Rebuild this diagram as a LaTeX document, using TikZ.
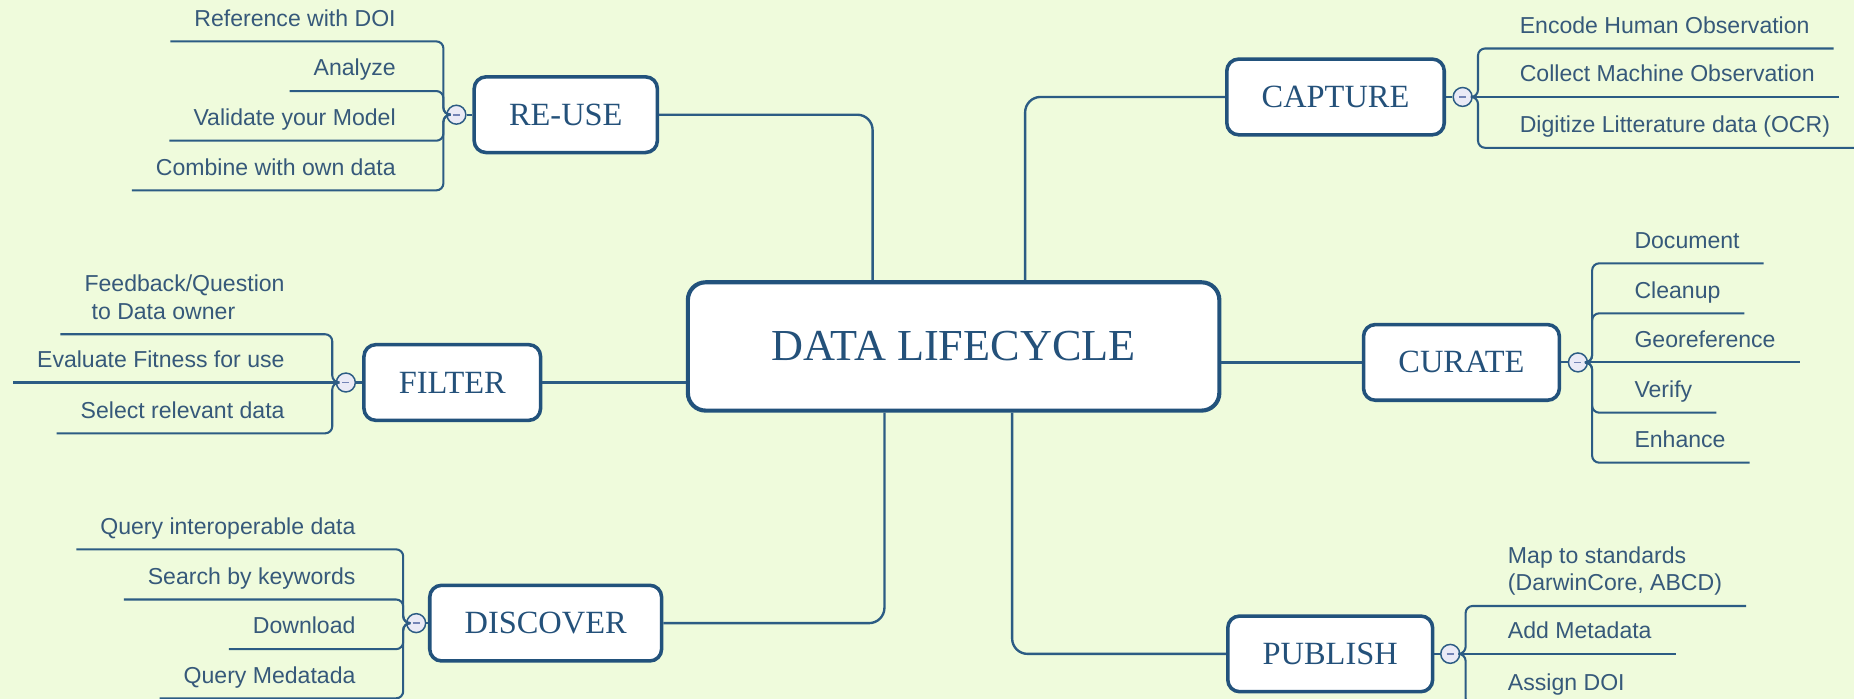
\documentclass[tikz,border=0pt]{standalone}
\usepackage{fontspec}
\setmainfont{Liberation Serif}
\newfontfamily\leaffont{Liberation Sans}

\definecolor{mmbg}{HTML}{EFFBDC}
\definecolor{mmbox}{HTML}{22527C}
\definecolor{mmline}{HTML}{2C5C84}
\definecolor{mmtext}{HTML}{36597A}
\definecolor{mmtitle}{HTML}{24517A}
\definecolor{mmdot}{HTML}{EAEAF6}
\definecolor{mmminus}{HTML}{7383B5}

\begin{document}
\begin{tikzpicture}[x=0.2mm, y=-0.2mm,
        hub/.style={draw=mmbox, line width=0.7mm, rounded corners=3mm, fill=white, text=mmtitle,
            font=\fontsize{21.3}{24}\selectfont, minimum width=89.9mm, minimum height=21.7mm},
        stage/.style={draw=mmbox, line width=0.6mm, rounded corners=2mm, fill=white, text=mmtitle,
            font=\fontsize{15.6}{18}\selectfont, inner xsep=5.9mm, minimum height=12.8mm},
        leaf/.style={text=mmtext, font=\leaffont\fontsize{11.1}{13.3}\selectfont,
            inner xsep=4mm, inner ysep=0pt, text depth=2.5mm},
        knob/.style={circle, draw=mmline, line width=0.25mm, fill=mmdot, minimum size=3.2mm, inner sep=0pt,
            path picture={\draw[mmminus, line width=0.3mm] ([xshift=-0.6mm]path picture bounding box.center)
                -- ([xshift=0.6mm]path picture bounding box.center);}},
        link/.style={draw=mmline, line width=0.4mm, rounded corners=2.6mm},
        twig/.style={draw=mmline, line width=0.35mm, rounded corners=1.2mm}]

        \useasboundingbox (0,0) rectangle (1568,591);
        \clip (0,0) rectangle (1568,591);
        \fill[mmbg] (0,0) rectangle (1568,591);

        % centre and stages
        \node[hub]   (lifecycle) at (806.5,293) {DATA LIFECYCLE};
        \node[stage] (reuse)     at (478.5, 97) {RE-USE};
        \node[stage] (capture)   at (1129.5,82) {CAPTURE};
        \node[stage] (filter)    at (382.5,323.5) {FILTER};
        \node[stage] (curate)    at (1236,306.5) {CURATE};
        \node[stage] (discover)  at (461.5,527) {DISCOVER};
        \node[stage] (publish)   at (1125,553) {PUBLISH};

        \path (lifecycle.north west) ++(158,0) coordinate (reuse-in);
        \path (lifecycle.north west) ++(287,0) coordinate (capture-in);
        \path (lifecycle.south west) ++(168,0) coordinate (discover-in);
        \path (lifecycle.south west) ++(276,0) coordinate (publish-in);

        \draw[link] (reuse.east) -| (reuse-in);
        \draw[link] (capture.west) -| (capture-in);
        \draw[link] (filter.east) -- (filter.east -| lifecycle.west);
        \draw[link] (curate.west) -- (curate.west -| lifecycle.east);
        \draw[link] (discover.east) -| (discover-in);
        \draw[link] (publish.west) -| (publish-in);

        % collapse knobs
        \node[knob] (reuse-k)    at (386,97) {};
        \node[knob] (capture-k)  at (1237,82) {};
        \node[knob] (filter-k)   at (292.5,323.5) {};
        \node[knob] (curate-k)   at (1334.5,306.5) {};
        \node[knob] (discover-k) at (352,527) {};
        \node[knob] (publish-k)  at (1226.5,553) {};

        \draw[twig] (reuse.west) -- (reuse-k.east);
        \draw[twig] (capture.east) -- (capture-k.west);
        \draw[twig] (filter.west) -- (filter-k.east);
        \draw[twig] (curate.east) -- (curate-k.west);
        \draw[twig] (discover.west) -- (discover-k.east);
        \draw[twig] (publish.east) -- (publish-k.west);

        \coordinate (reuse-sp)    at (375,97);
        \coordinate (capture-sp)  at (1250,82);
        \coordinate (filter-sp)   at (281,323.5);
        \coordinate (curate-sp)   at (1346.5,306.5);
        \coordinate (discover-sp) at (341,527);
        \coordinate (publish-sp)  at (1239.5,553);

        % RE-USE
        \node[leaf, anchor=south east] (reuse-1) at (355,35)  {Reference with DOI};
        \node[leaf, anchor=south east] (reuse-2) at (355,77)  {Analyze};
        \node[leaf, anchor=south east] (reuse-3) at (355,119) {Validate your Model};
        \node[leaf, anchor=south east] (reuse-4) at (355,161) {Combine with own data};
        \draw[twig] (reuse-k.west) -- (reuse-sp) |- (reuse-1.south west);
        \draw[twig] (reuse-k.west) -- (reuse-sp) |- (reuse-2.south west);
        \draw[twig] (reuse-k.west) -- (reuse-sp) |- (reuse-3.south west);
        \draw[twig] (reuse-k.west) -- (reuse-sp) |- (reuse-4.south west);

        % CAPTURE
        \node[leaf, anchor=south west] (capture-1) at (1265,41)  {Encode Human Observation};
        \node[leaf, anchor=south west] (capture-2) at (1265,82)  {Collect Machine Observation};
        \node[leaf, anchor=south west] (capture-3) at (1265,125) {Digitize Litterature data (OCR)};
        \draw[twig] (capture-k.east) -- (capture-sp) |- (capture-1.south east);
        \draw[twig] (capture-k.east) -- (capture-2.south east);
        \draw[twig] (capture-k.east) -- (capture-sp) |- (capture-3.south east);

        % FILTER
        \node[leaf, anchor=south east] (filter-1) at (261,282.7)
            {\begin{tabular}[b]{@{}l@{}}Feedback/Question\\\hspace{1.2mm}to Data owner\end{tabular}};
        \node[leaf, anchor=south east] (filter-2) at (261,323.5) {Evaluate Fitness for use};
        \node[leaf, anchor=south east] (filter-3) at (261,366.5) {Select relevant data};
        \draw[twig] (filter-k.west) -- (filter-sp) |- (filter-1.south west);
        \draw[twig] (filter-k.west) -- (filter-2.south west);
        \draw[twig] (filter-k.west) -- (filter-sp) |- (filter-3.south west);

        % CURATE
        \node[leaf, anchor=south west] (curate-1) at (1362,222.7) {Document};
        \node[leaf, anchor=south west] (curate-2) at (1362,265)   {Cleanup};
        \node[leaf, anchor=south west] (curate-3) at (1362,306.5) {Georeference};
        \node[leaf, anchor=south west] (curate-4) at (1362,349)   {Verify};
        \node[leaf, anchor=south west] (curate-5) at (1362,391.3) {Enhance};
        \draw[twig] (curate-k.east) -- (curate-sp) |- (curate-1.south east);
        \draw[twig] (curate-k.east) -- (curate-sp) |- (curate-2.south east);
        \draw[twig] (curate-k.east) -- (curate-3.south east);
        \draw[twig] (curate-k.east) -- (curate-sp) |- (curate-4.south east);
        \draw[twig] (curate-k.east) -- (curate-sp) |- (curate-5.south east);

        % DISCOVER
        \node[leaf, anchor=south east] (discover-1) at (321,464.6) {Query interoperable data};
        \node[leaf, anchor=south east] (discover-2) at (321,507)   {Search by keywords};
        \node[leaf, anchor=south east] (discover-3) at (321,549)   {Download};
        \node[leaf, anchor=south east] (discover-4) at (321,590.6) {Query Medatada};
        \draw[twig] (discover-k.west) -- (discover-sp) |- (discover-1.south west);
        \draw[twig] (discover-k.west) -- (discover-sp) |- (discover-2.south west);
        \draw[twig] (discover-k.west) -- (discover-sp) |- (discover-3.south west);
        \draw[twig] (discover-k.west) -- (discover-sp) |- (discover-4.south west);

        % PUBLISH
        \node[leaf, anchor=south west] (publish-1) at (1255,512.5)
            {\begin{tabular}[b]{@{}l@{}}Map to standards\\(DarwinCore, ABCD)\end{tabular}};
        \node[leaf, anchor=south west] (publish-2) at (1255,553)   {Add Metadata};
        \node[leaf, anchor=south west] (publish-3) at (1255,596.5) {Assign DOI};
        \draw[twig] (publish-k.east) -- (publish-sp) |- (publish-1.south east);
        \draw[twig] (publish-k.east) -- (publish-2.south east);
        \draw[twig] (publish-k.east) -- (publish-sp) |- (publish-3.south east);
    \end{tikzpicture}
\end{document}
